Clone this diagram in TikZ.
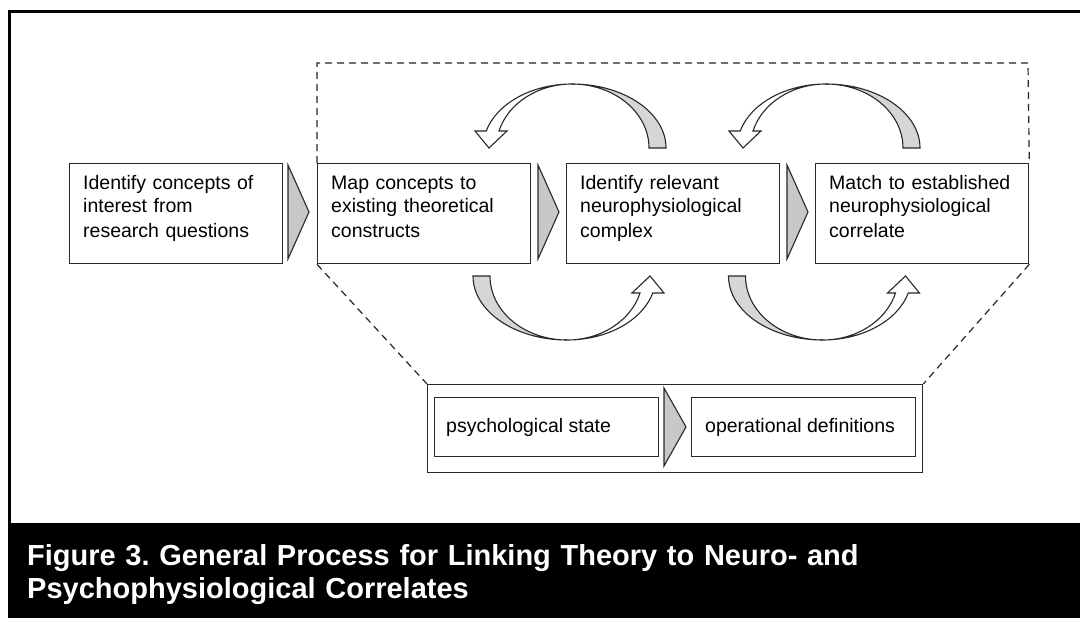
\documentclass[tikz,border=0pt]{standalone}
\usepackage{fontspec}
\setmainfont{Liberation Sans}
\usetikzlibrary{calc}
\definecolor{linecol}{RGB}{40,40,40}
\definecolor{trifill}{RGB}{200,200,200}
\definecolor{arrowgray}{RGB}{214,214,214}
\newcommand\mycurvedarrow{%
  \filldraw[fill=arrowgray, draw=linecol, line width=1.1, line join=miter]
    (-94,0) arc[start angle=180, end angle=90, x radius=94, y radius=64]
    arc[start angle=90, end angle=180, x radius=77, y radius=64] -- cycle;
  \filldraw[fill=white, draw=linecol, line width=1.1, line join=miter]
    (0,64) arc[start angle=90, end angle=15.4, x radius=89, y radius=64]
    -- (97,17) -- (83,0) -- (65,17) -- (73,17)
    arc[start angle=15.4, end angle=90, x radius=75.7, y radius=64] -- cycle;
}
\begin{document}
\frenchspacing
\begin{tikzpicture}[x=1pt,y=1pt,yscale=-1,
  box/.style={draw=linecol, line width=1.3, fill=white, inner sep=0, minimum width=213, minimum height=100, anchor=north west},
  boxtext/.style={anchor=base west, text width=200, align=left, inner sep=0, font=\fontsize{19.5}{24}\selectfont},
  smalltext/.style={anchor=west, inner sep=0, font=\fontsize{19.5}{24}\selectfont},
  tri/.style={draw=linecol, fill=trifill, line width=1.1, line join=miter},
  dashline/.style={draw=black!85, line width=1.2, dash pattern=on 7pt off 5pt}]
\useasboundingbox (0,0) rectangle (1080,618);
\fill[white] (0,0) rectangle (1080,618);

% frame and caption band
\draw[line width=3] (9.5,523) -- (9.5,11.5) -- (1080,11.5);
\fill[black] (8,523) rectangle (1080,618);
\node[anchor=base west, text=white, text width=1040, align=left, inner sep=0,
      font=\bfseries\fontsize{29}{33}\selectfont] (cap) at (27,565)
  {Figure 3. General Process for Linking Theory to Neuro- and\\Psychophysiological Correlates};

% main boxes
\node[box] (b1) at (69,163) {};
\node[box] (b2) at (317,163) {};
\node[box] (b3) at (566,163) {};
\node[box] (b4) at (815,163) {};
\node[boxtext] (t1) at ($(b1.north west)+(14,26)$) {Identify concepts of\\interest from\\research questions};
\node[boxtext] (t2) at ($(b2.north west)+(14,26)$) {Map concepts to\\existing theoretical\\constructs};
\node[boxtext] (t3) at ($(b3.north west)+(14,26)$) {Identify relevant\\neurophysiological\\complex};
\node[boxtext] (t4) at ($(b4.north west)+(14,26)$) {Match to established\\neurophysiological\\correlate};

% chevrons between boxes
\draw[tri] (288,165) -- (309,212) -- (288,259) -- cycle;
\draw[tri] (538,165) -- (559,212) -- (538,259) -- cycle;
\draw[tri] (787,165) -- (808,212) -- (787,259) -- cycle;

% lower detail box
\node[box, minimum width=495, minimum height=88] (outer) at (427,384) {};
\node[box, minimum width=224, minimum height=59] (in1) at (434,397) {};
\node[box, minimum width=224, minimum height=59] (in2) at (691,397) {};
\node[smalltext] (s1) at ($(in1.west)+(12,0)$) {psychological state};
\node[smalltext] (s2) at ($(in2.west)+(14,0)$) {operational definitions};
\draw[tri] (664,388) -- (686,427) -- (664,466) -- cycle;

% dashed outlines
\coordinate (dtl) at (317,63);
\coordinate (dtr) at (1028,63);
\draw[dashline] (b2.north west) -- (dtl) -- (dtr) -- (b4.north east);
\draw[dashline] (b2.south west) -- (outer.north west);
\draw[dashline] (b4.south east) -- (outer.north east);

% curved arrows
\begin{scope}[shift={(567,276)}]\mycurvedarrow\end{scope}
\begin{scope}[shift={(822.5,276)}]\mycurvedarrow\end{scope}
\begin{scope}[shift={(572,148)}, rotate=180]\mycurvedarrow\end{scope}
\begin{scope}[shift={(826,148)}, rotate=180]\mycurvedarrow\end{scope}
\end{tikzpicture}
\end{document}
